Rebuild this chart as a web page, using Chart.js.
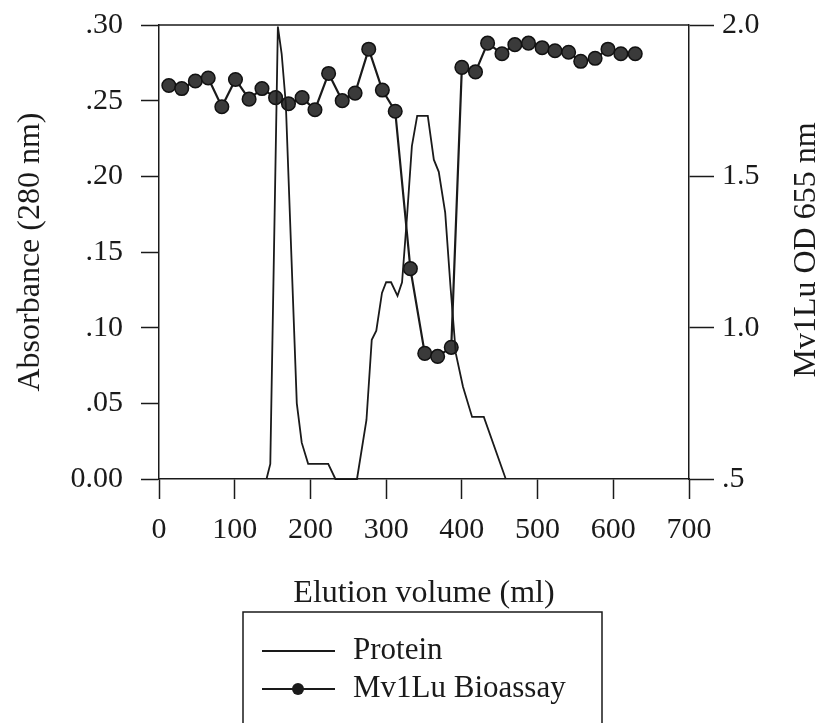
<!DOCTYPE html>
<html>
<head>
<meta charset="utf-8">
<script src="https://cdn.jsdelivr.net/npm/chart.js@4.4.1/dist/chart.umd.min.js"></script>
<style>
  html, body { margin: 0; padding: 0; background: #ffffff; }
  canvas { display: block; }
</style>
</head>
<body>
<canvas id="c" width="824" height="723"></canvas>
<script>
// ---- Data ----
const proteinVolume = [142, 147, 157, 162, 167.5, 182, 188.5, 197, 223.5, 233, 261.5, 274, 281, 287, 294.5, 300, 306.5, 315, 321, 327.5, 334, 341, 355, 363, 369.5, 378, 385, 392, 401.5, 413.5, 429, 458];
const proteinAbs    = [0, 0.01, 0.299, 0.281, 0.248, 0.05, 0.024, 0.01, 0.01, 0, 0, 0.039, 0.092, 0.098, 0.123, 0.13, 0.13, 0.121, 0.13, 0.173, 0.22, 0.24, 0.24, 0.211, 0.203, 0.176, 0.127, 0.083, 0.061, 0.041, 0.041, 0];

const bioassayVolume = [13, 30, 48, 65, 83, 101, 119, 136, 154, 171, 189, 206, 224, 242, 259, 277, 295, 312, 332, 351, 368, 386, 400, 418, 434, 453, 470, 488, 506, 523, 541, 557, 576, 593, 610, 629];
const bioassayOD     = [1.80, 1.79, 1.815, 1.825, 1.73, 1.82, 1.755, 1.79, 1.76, 1.74, 1.76, 1.72, 1.84, 1.75, 1.775, 1.92, 1.785, 1.715, 1.195, 0.915, 0.905, 0.935, 1.86, 1.845, 1.94, 1.905, 1.935, 1.94, 1.925, 1.915, 1.91, 1.88, 1.89, 1.92, 1.905, 1.905];

const xTickValues = [0, 100, 200, 300, 400, 500, 600, 700];
const xTickLabels = ['0', '100', '200', '300', '400', '500', '600', '700'];
const leftTickValues = [0, 0.05, 0.10, 0.15, 0.20, 0.25, 0.30];
const leftTickLabels = ['0.00', '.05', '.10', '.15', '.20', '.25', '.30'];
const rightTickValues = [0.5, 1.0, 1.5, 2.0];
const rightTickLabels = ['.5', '1.0', '1.5', '2.0'];

const seriesNames = ['Protein', 'Mv1Lu Bioassay'];
const xTitle = 'Elution volume (ml)';
const leftTitle = 'Absorbance (280 nm)';
const rightTitle = 'Mv1Lu OD 655 nm';

// ---- Rendering ----
const FONT = '"Liberation Serif", "Times New Roman", serif';
const INK = '#1a1a1a';

const framePlugin = {
  id: 'frameAndLegend',
  afterDraw(chart) {
    const ctx = chart.ctx;
    const a = chart.chartArea;
    ctx.save();
    // top frame line
    ctx.strokeStyle = INK;
    ctx.lineWidth = 1.5;
    ctx.beginPath();
    ctx.moveTo(a.left, a.top);
    ctx.lineTo(a.right, a.top);
    ctx.stroke();

    // right axis title (reads bottom-to-top)
    ctx.save();
    ctx.translate(807, (a.top + a.bottom) / 2 - 2);
    ctx.rotate(-Math.PI / 2);
    ctx.fillStyle = INK;
    ctx.font = '32px ' + FONT;
    ctx.textAlign = 'center';
    ctx.textBaseline = 'middle';
    ctx.fillText(rightTitle, 0, 0);
    ctx.restore();

    // legend box
    const bx = 243, by = 612, bw = 359;
    ctx.strokeStyle = INK;
    ctx.lineWidth = 1.5;
    ctx.beginPath();
    ctx.moveTo(bx, 730);
    ctx.lineTo(bx, by);
    ctx.lineTo(bx + bw, by);
    ctx.lineTo(bx + bw, 730);
    ctx.stroke();

    const ds = chart.data.datasets;
    ctx.font = '31px ' + FONT;
    ctx.textAlign = 'left';
    ctx.textBaseline = 'middle';
    ctx.fillStyle = INK;
    // item 1
    ctx.lineWidth = 1.8;
    ctx.beginPath();
    ctx.moveTo(262, 651); ctx.lineTo(335, 651); ctx.stroke();
    ctx.fillText(ds[0].label, 353, 651);
    // item 2
    ctx.lineWidth = 2;
    ctx.beginPath();
    ctx.moveTo(262, 689); ctx.lineTo(335, 689); ctx.stroke();
    ctx.beginPath();
    ctx.arc(298, 689, 6, 0, Math.PI * 2);
    ctx.fillStyle = INK;
    ctx.fill();
    ctx.fillText(ds[1].label, 353, 689);
    ctx.restore();
  }
};

const proteinData = proteinVolume.map((v, i) => ({ x: v, y: proteinAbs[i] }));
const bioassayData = bioassayVolume.map((v, i) => ({ x: v, y: bioassayOD[i] }));

new Chart(document.getElementById('c'), {
  type: 'scatter',
  data: {
    datasets: [
      {
        label: seriesNames[0],
        data: proteinData,
        yAxisID: 'y',
        showLine: true,
        borderColor: INK,
        borderWidth: 1.8,
        pointRadius: 0,
        tension: 0,
        clip: false
      },
      {
        label: seriesNames[1],
        data: bioassayData,
        yAxisID: 'y2',
        showLine: true,
        borderColor: INK,
        borderWidth: 2.2,
        pointRadius: 6.8,
        pointBackgroundColor: '#3a3a3a',
        pointBorderColor: '#111111',
        pointBorderWidth: 1.5,
        tension: 0,
        clip: false
      }
    ]
  },
  options: {
    responsive: false,
    animation: false,
    devicePixelRatio: 1,
    layout: { padding: { left: 0, right: 0, top: 25, bottom: 110 } },
    plugins: { legend: { display: false }, tooltip: { enabled: false } },
    scales: {
      x: {
        type: 'linear',
        min: 0, max: 700,
        afterBuildTicks: s => { s.ticks = xTickValues.map(v => ({ value: v })); },
        afterFit: s => { s.height = 134; s.paddingLeft = 0; s.paddingRight = 0; },
        ticks: {
          autoSkip: false, maxRotation: 0, padding: 13,
          color: INK, font: { family: FONT, size: 30 },
          callback: (v, i) => xTickLabels[i]
        },
        grid: { drawOnChartArea: false, drawTicks: true, tickLength: 20, tickColor: INK, tickWidth: 1.5 },
        border: { display: true, color: INK, width: 1.5 },
        title: { display: true, text: xTitle, color: INK, font: { family: FONT, size: 32 }, padding: { top: 0, bottom: 0 } }
      },
      y: {
        type: 'linear',
        position: 'left',
        min: 0, max: 0.30,
        afterBuildTicks: s => { s.ticks = leftTickValues.map(v => ({ value: v })); },
        afterFit: s => { s.width = 159; s.paddingTop = 0; s.paddingBottom = 0; },
        ticks: {
          autoSkip: false, padding: 18,
          color: INK, font: { family: FONT, size: 30 },
          callback: (v, i) => leftTickLabels[i]
        },
        grid: { drawOnChartArea: false, drawTicks: true, tickLength: 18, tickColor: INK, tickWidth: 1.5 },
        border: { display: true, color: INK, width: 1.5 },
        title: { display: true, text: leftTitle, color: INK, font: { family: FONT, size: 32 }, padding: { top: 11, bottom: 0 } }
      },
      y2: {
        type: 'linear',
        position: 'right',
        min: 0.5, max: 2.0,
        afterBuildTicks: s => { s.ticks = rightTickValues.map(v => ({ value: v })); },
        afterFit: s => { s.width = 135; s.paddingTop = 0; s.paddingBottom = 0; },
        ticks: {
          autoSkip: false, padding: 8,
          color: INK, font: { family: FONT, size: 30 },
          callback: (v, i) => rightTickLabels[i]
        },
        grid: { drawOnChartArea: false, drawTicks: true, tickLength: 25, tickColor: INK, tickWidth: 1.5 },
        border: { display: true, color: INK, width: 1.5 },
        title: { display: false }
      }
    }
  },
  plugins: [framePlugin]
});
</script>
</body>
</html>
